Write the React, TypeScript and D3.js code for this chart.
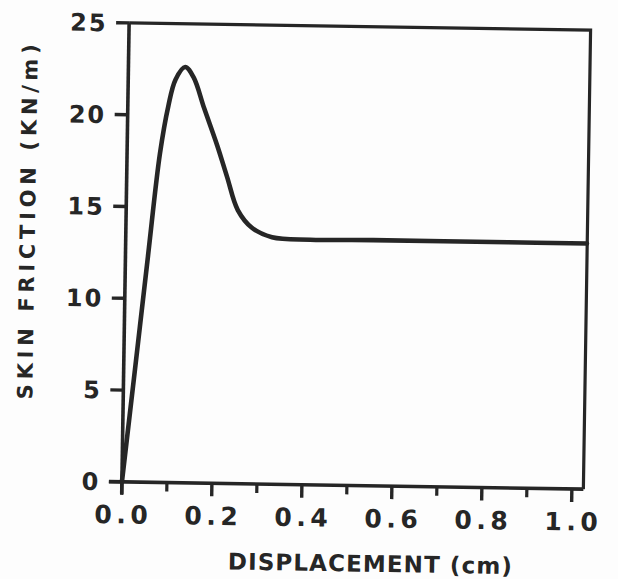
import React from 'react'
import * as d3 from 'd3'

// curve (displacement in cm, skin friction in kN/m)
const displacement = [0, 0.025, 0.05, 0.073, 0.09, 0.105, 0.126, 0.145, 0.17, 0.2, 0.223, 0.248, 0.28, 0.325, 0.41, 0.55, 0.85, 1.025]
const skinFriction = [0, 6.1, 12.3, 17.9, 20.5, 21.95, 22.65, 22.1, 20.4, 18.4, 16.7, 14.9, 13.95, 13.45, 13.35, 13.38, 13.38, 13.38]

const xMajorTicks = [0, 0.2, 0.4, 0.6, 0.8, 1.0]
const xMinorTicks = [0.1, 0.3, 0.5, 0.7, 0.9]
const xTickLabels = ['0.0', '0.2', '0.4', '0.6', '0.8', '1.0']
const yTicks = [0, 5, 10, 15, 20, 25]
const yTickLabels = ['0', '5', '10', '15', '20', '25']

const width = 618
const height = 579
const ink = '#262626'
const font = '"DejaVu Sans", sans-serif'

const xScale = d3.scaleLinear().domain([0, 1]).range([125.5, 575.5])
const yScale = d3.scaleLinear().domain([0, 25]).range([485.5, 26.5])
const xEnd = 1.0256

const points: [number, number][] = displacement.map((d, i) => [d, skinFriction[i]])

const line = d3
  .line<[number, number]>()
  .x(d => xScale(d[0]))
  .y(d => yScale(d[1]))
  .curve(d3.curveCatmullRom.alpha(0.5))

export default function App() {
  const left = xScale(0)
  const right = xScale(xEnd)
  const top = yScale(25)
  const bottom = yScale(0)

  return (
    <svg
      width={width}
      height={height}
      style={{ position: 'absolute', left: 0, top: 0, background: '#fff' }}
    >
      <rect width={width} height={height} fill="#fdfdfd" />
      {/* the scan is tilted slightly clockwise */}
      <g transform="rotate(0.9 355 255)">
        {/* frame top and right */}
        <path
          d={`M${left},${top}H${right}V${bottom}`}
          fill="none"
          stroke={ink}
          strokeWidth={3.2}
        />
        {/* axes */}
        <line x1={left} x2={left} y1={top} y2={bottom + 12} stroke={ink} strokeWidth={3.6} />
        <line x1={left - 13} x2={right} y1={bottom} y2={bottom} stroke={ink} strokeWidth={3.6} />

        {yTicks.map((t, i) => (
          <g key={'y' + t}>
            <line x1={left - 13} x2={left} y1={yScale(t)} y2={yScale(t)} stroke={ink} strokeWidth={3.4} />
            <text
              x={104}
              y={yScale(t)}
              dy="0.36em"
              textAnchor="end"
              fontFamily={font}
              fontWeight="bold"
              fontSize={24}
              letterSpacing={2}
              fill={ink}
            >
              {yTickLabels[i]}
            </text>
          </g>
        ))}

        {xMajorTicks.map((t, i) => (
          <g key={'x' + t}>
            <line x1={xScale(t)} x2={xScale(t)} y1={bottom} y2={bottom + 13} stroke={ink} strokeWidth={3.4} />
            <text
              x={xScale(t) + 2}
              y={527}
              textAnchor="middle"
              fontFamily={font}
              fontWeight="bold"
              fontSize={25}
              letterSpacing={4.5}
              fill={ink}
            >
              {xTickLabels[i]}
            </text>
          </g>
        ))}
        {xMinorTicks.map(t => (
          <line key={'m' + t} x1={xScale(t)} x2={xScale(t)} y1={bottom} y2={bottom + 9} stroke={ink} strokeWidth={3.2} />
        ))}

        <path d={line(points) ?? ''} fill="none" stroke={ink} strokeWidth={4.6} strokeLinejoin="round" strokeLinecap="round" />

        <text
          x={374.8}
          y={571.5}
          textAnchor="middle"
          fontFamily={font}
          fontWeight="bold"
          fontSize={23}
          textLength={284}
          lengthAdjust="spacing"
          fill={ink}
        >
          DISPLACEMENT (cm)
        </text>
        <text
          transform="translate(34.5 227) rotate(-90)"
          textAnchor="middle"
          fontFamily={font}
          fontWeight="bold"
          fontSize={21}
          textLength={355}
          lengthAdjust="spacing"
          fill={ink}
        >
          SKIN FRICTION (KN/m)
        </text>
      </g>
    </svg>
  )
}
